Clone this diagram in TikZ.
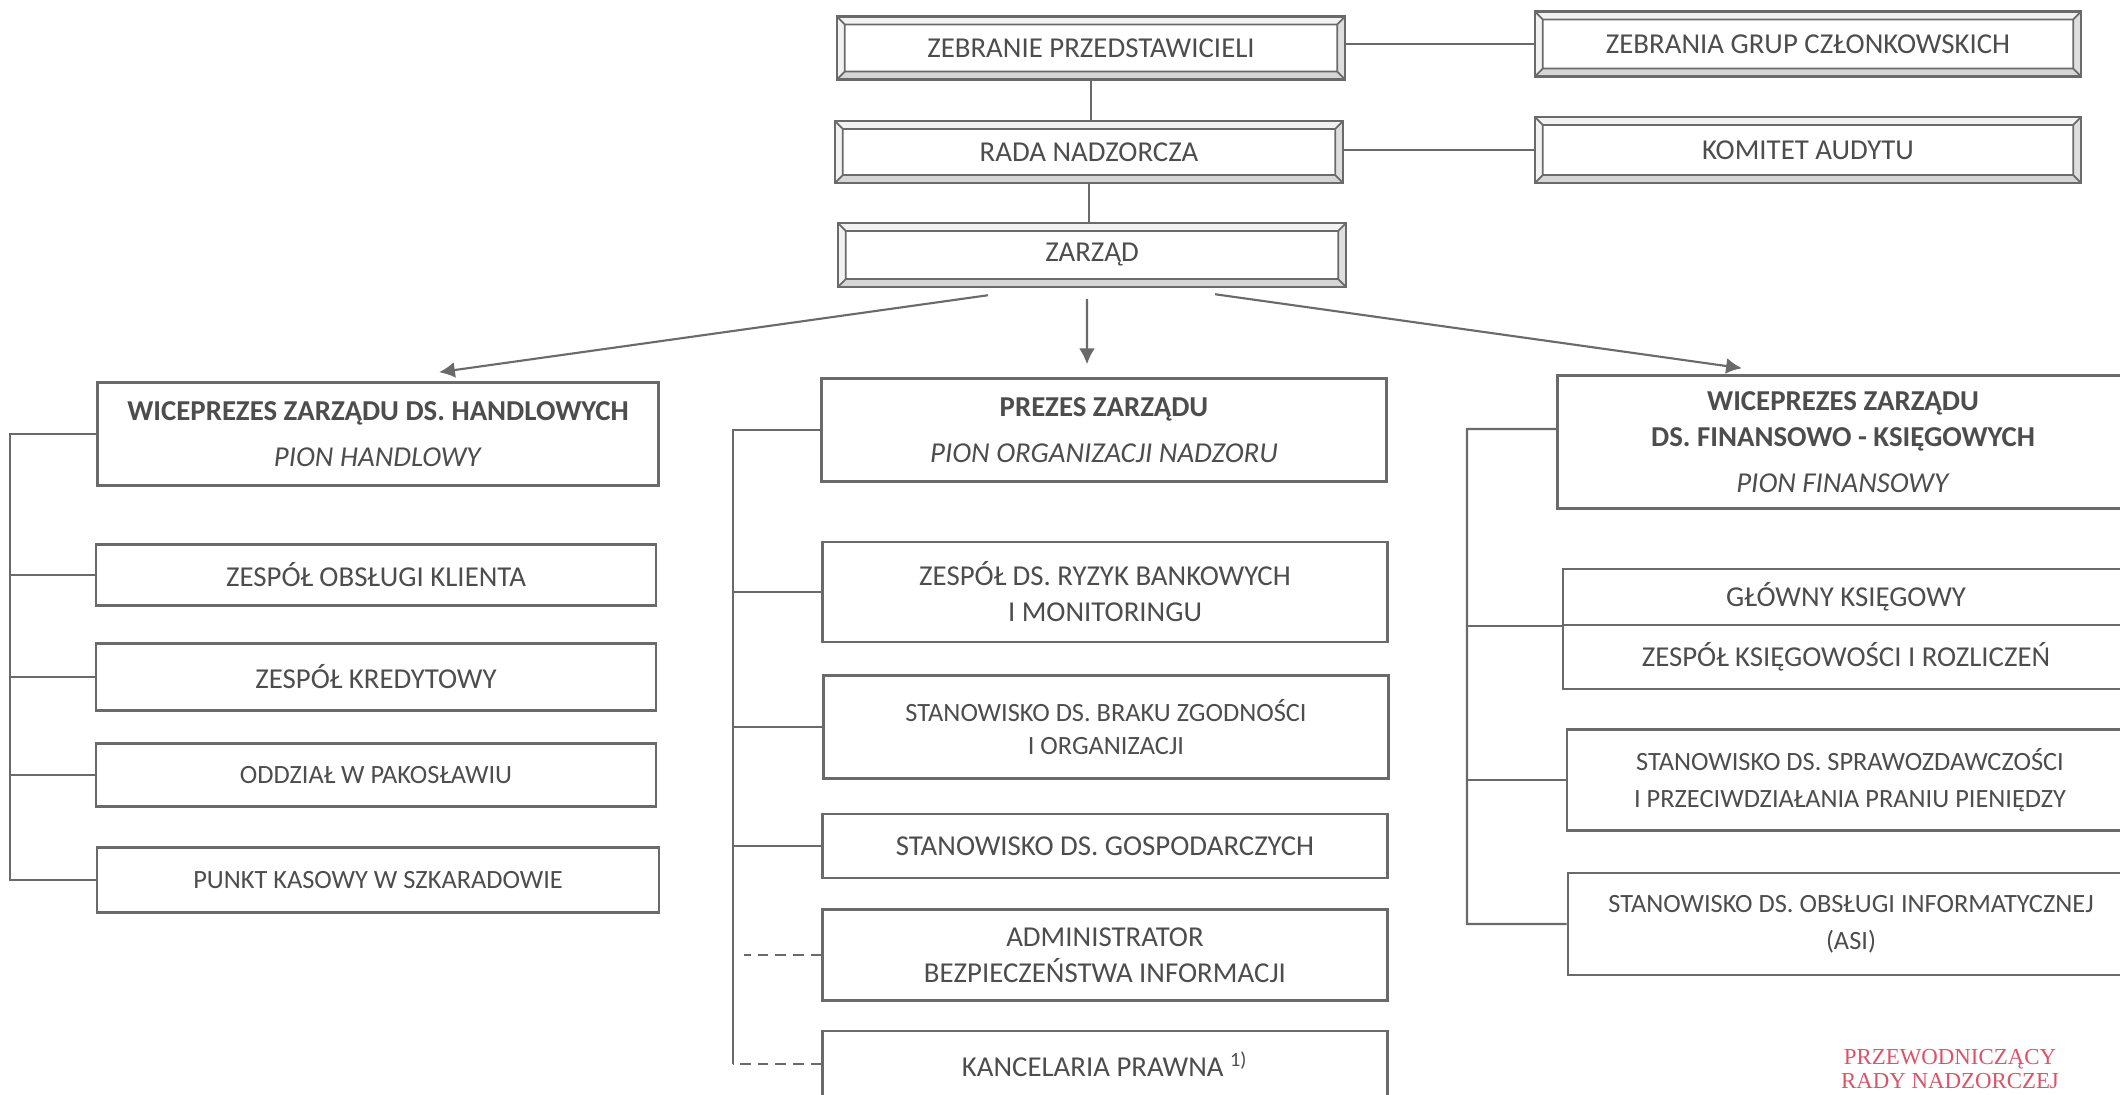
\documentclass[tikz,border=0pt]{standalone}
\usepackage{fontspec}
\setmainfont{Carlito}
\newfontfamily\stampfont{Liberation Serif}
\usepackage{tikz}
\usetikzlibrary{arrows.meta}
\definecolor{linecol}{HTML}{6A6A6A}
\definecolor{txtcol}{HTML}{4D4D4D}
\definecolor{stampcol}{HTML}{D9546A}

\begin{document}
\begin{tikzpicture}[
        x=0.01cm, y=-0.01cm,
        every node/.style={text=txtcol, font=\fontsize{8.2}{10.2}\selectfont, align=center, inner sep=0pt},
        unit/.style={draw=linecol, line width=0.7pt, minimum width=5.64cm},
        smalltext/.style={font=\fontsize{7.5}{10.4}\selectfont},
        bevel/.style={draw=linecol, line width=0.7pt, minimum width=5.08cm,
            path picture={
                \coordinate (bnw) at (path picture bounding box.north west);
                \coordinate (bne) at (path picture bounding box.north east);
                \coordinate (bse) at (path picture bounding box.south east);
                \coordinate (bsw) at (path picture bounding box.south west);
                \coordinate (inw) at ([shift={(0.08cm,-0.08cm)}]bnw);
                \coordinate (ine) at ([shift={(-0.08cm,-0.08cm)}]bne);
                \coordinate (ise) at ([shift={(-0.08cm,0.08cm)}]bse);
                \coordinate (isw) at ([shift={(0.08cm,0.08cm)}]bsw);
                \fill[gray!10] (bnw) -- (bne) -- (ine) -- (inw) -- cycle;
                \fill[gray!10] (bnw) -- (inw) -- (isw) -- (bsw) -- cycle;
                \fill[gray!32] (bsw) -- (isw) -- (ise) -- (bse) -- cycle;
                \fill[gray!26] (bse) -- (ise) -- (ine) -- (bne) -- cycle;
                \draw[linecol, line width=0.5pt] (inw) rectangle (ise)
                    (bnw) -- (inw) (bne) -- (ine) (bse) -- (ise) (bsw) -- (isw);
            }},
        conn/.style={draw=linecol, line width=0.6pt},
        arr/.style={conn, -{Latex[length=4.5pt,width=4.5pt]}},
        dashconn/.style={conn, dash pattern=on 3pt off 2pt},
        stamp/.style={text=stampcol, font=\stampfont\fontsize{6.5}{6.6}\selectfont}
    ]
    \path[use as bounding box, fill=white] (0,0) rectangle (2120,1095);

    \node (zp) [bevel, minimum height=0.63cm] at (1091,48) {ZEBRANIE PRZEDSTAWICIELI};
    \node (zg) [bevel, minimum width=5.46cm, minimum height=0.65cm] at (1808,44) {ZEBRANIA GRUP CZŁONKOWSKICH};
    \node (rn) [bevel, minimum height=0.62cm] at (1089,152) {RADA NADZORCZA};
    \node (ka) [bevel, minimum width=5.46cm, minimum height=0.66cm] at (1808,150) {KOMITET AUDYTU};
    \node (zd) [bevel, minimum height=0.64cm] at (1092,255) {ZARZĄD};

    \draw[conn] (zg.west -| zp.east) -- (zg.west);
    \draw[conn] (ka.west -| rn.east) -- (ka.west);
    \draw[conn] (zp.south) -- (zp.south |- rn.north);
    \draw[conn] (rn.south) -- (rn.south |- zd.north);

    \node (1l) [unit, minimum width=5.61cm, minimum height=1.03cm] at (378,434)
        {\textbf{WICEPREZES ZARZĄDU DS. HANDLOWYCH}\\[2.9pt]\textit{PION HANDLOWY}};
    \node (2l1) [unit, minimum width=5.6cm, minimum height=0.61cm] at (376,575) {ZESPÓŁ OBSŁUGI KLIENTA};
    \node (2l2) [unit, minimum width=5.6cm, minimum height=0.67cm] at (376,677) {ZESPÓŁ KREDYTOWY};
    \node (2l3) [unit, smalltext, minimum width=5.6cm, minimum height=0.63cm] at (376,775) {ODDZIAŁ W PAKOSŁAWIU};
    \node (2l4) [unit, smalltext, minimum width=5.62cm, minimum height=0.65cm] at (378,880) {PUNKT KASOWY W SZKARADOWIE};

    \node (1m) [unit, minimum width=5.65cm, minimum height=1.03cm] at (1104,430)
        {\textbf{PREZES ZARZĄDU}\\[2.9pt]\textit{PION ORGANIZACJI NADZORU}};
    \node (2m1) [unit, minimum width=5.65cm, minimum height=1.0cm] at (1105,592) {ZESPÓŁ DS. RYZYK BANKOWYCH\\I MONITORINGU};
    \node (2m2) [unit, smalltext, font=\fontsize{7.5}{9.4}\selectfont, minimum width=5.65cm, minimum height=1.03cm] at (1106,727)
        {STANOWISKO DS. BRAKU ZGODNOŚCI\\I ORGANIZACJI};
    \node (2m3) [unit, minimum width=5.65cm, minimum height=0.64cm] at (1105,846) {STANOWISKO DS. GOSPODARCZYCH};
    \node (2m4) [unit, minimum width=5.65cm, minimum height=0.91cm] at (1105,955) {ADMINISTRATOR\\BEZPIECZEŃSTWA INFORMACJI};
    \node (2m5) [unit, minimum width=5.65cm, minimum height=0.66cm] at (1105,1064) {KANCELARIA PRAWNA \textsuperscript{1)}};

    \node (1r) [unit, minimum width=5.71cm, minimum height=1.33cm] at (1843,442)
        {\textbf{WICEPREZES ZARZĄDU}\\\textbf{DS. FINANSOWO - KSIĘGOWYCH}\\[2.9pt]\textit{PION FINANSOWY}};
    \node (2r1) [unit, minimum width=5.66cm, minimum height=0.56cm] at (1846,597) {GŁÓWNY KSIĘGOWY};
    \node (2r2) [unit, minimum width=5.66cm, minimum height=0.64cm] at (1846,657) {ZESPÓŁ KSIĘGOWOŚCI I ROZLICZEŃ};
    \node (2r3) [unit, smalltext, minimum width=5.66cm, minimum height=1.01cm] at (1850,780)
        {STANOWISKO DS. SPRAWOZDAWCZOŚCI\\I PRZECIWDZIAŁANIA PRANIU PIENIĘDZY};
    \node (2r4) [unit, smalltext, minimum width=5.66cm, minimum height=1.02cm] at (1851,924)
        {STANOWISKO DS. OBSŁUGI INFORMATYCZNEJ\\(ASI)};

    \draw[arr] ([xshift=-1.04cm,yshift=-0.07cm]zd.south) -- ([xshift=0.61cm,yshift=0.09cm]1l.north);
    \draw[arr] ([xshift=-0.05cm,yshift=-0.11cm]zd.south) -- ([xshift=-0.17cm,yshift=0.13cm]1m.north);
    \draw[arr] ([xshift=1.23cm,yshift=-0.06cm]zd.south) -- ([xshift=-1.01cm,yshift=0.06cm]1r.north);

    \coordinate (vl) at (10,435);
    \draw[conn] (1l.west) -- (1l.west -| vl) |- (2l4.west);
    \draw[conn] (2l1.west) -- (2l1.west -| vl);
    \draw[conn] (2l2.west) -- (2l2.west -| vl);
    \draw[conn] (2l3.west) -- (2l3.west -| vl);

    \coordinate (vm) at (733,431);
    \draw[conn] (1m.west) -- (1m.west -| vm) -- (2m5.west -| vm);
    \draw[conn] (2m1.west) -- (2m1.west -| vm);
    \draw[conn] (2m2.west) -- (2m2.west -| vm);
    \draw[conn] (2m3.west) -- (2m3.west -| vm);
    \draw[dashconn] (2m4.west) -- ++(-77,0);
    \draw[dashconn] (2m5.west) -- (2m5.west -| vm);

    \coordinate (vr) at (1467,429);
    \draw[conn] ([yshift=0.13cm]1r.west) -- (vr) -- (vr |- 2r4.west) -- (2r4.west);
    \draw[conn] (2r1.south west) -- (2r1.south west -| vr);
    \draw[conn] (2r3.west) -- (2r3.west -| vr);

    \node (st) [stamp] at (1950,1069) {PRZEWODNICZĄCY\\RADY NADZORCZEJ};
\end{tikzpicture}
\end{document}
